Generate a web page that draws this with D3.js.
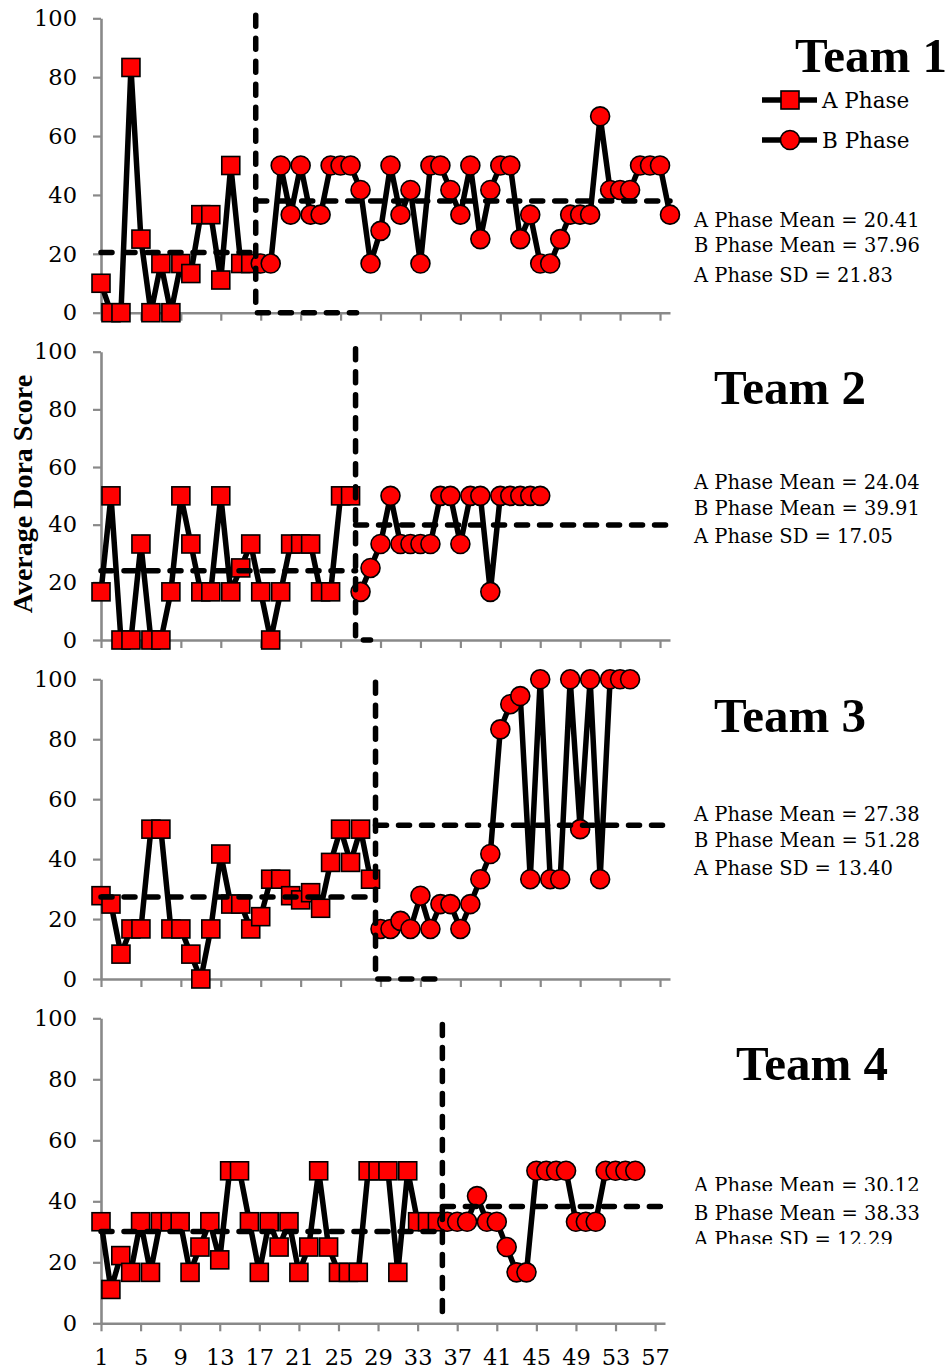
<!DOCTYPE html>
<html>
<head>
<meta charset="utf-8">
<script src="https://cdn.jsdelivr.net/npm/d3@7"></script>
<style>
  body { margin: 0; background: #fff; }
  svg { display: block; }
  .tick text { font-family: "DejaVu Serif", serif; font-size: 22.5px; fill: #000; }
</style>
</head>
<body>
<svg id="chart"></svg>
<script>
var width = 952;
var height = 1370;

// ---- data ----
var teamNames = ["Team 1", "Team 2", "Team 3", "Team 4"];
var xTickLabels = [1, 5, 9, 13, 17, 21, 25, 29, 33, 37, 41, 45, 49, 53, 57];
var yTickLabels = [0, 20, 40, 60, 80, 100];
var seriesNames = ["A Phase", "B Phase"];

var team1A = [10, 0, 0, 83.3, 25, 0, 16.7, 0, 16.7, 13.3, 33.3, 33.3, 11.1, 50, 16.7, 16.7];
var team1B = [16.7, 16.7, 50, 33.3, 50, 33.3, 33.3, 50, 50, 50, 41.7, 16.7, 27.8, 50, 33.3,
  41.7, 16.7, 50, 50, 41.7, 33.3, 50, 25, 41.7, 50, 50, 25, 33.3, 16.7, 16.7, 25, 33.3,
  33.3, 33.3, 66.7, 41.7, 41.7, 41.7, 50, 50, 50, 33.3];

var team2A = [16.7, 50, 0, 0, 33.3, 0, 0, 16.7, 50, 33.3, 16.7, 16.7, 50, 16.7, 25, 33.3,
  16.7, 0, 16.7, 33.3, 33.3, 33.3, 16.7, 16.7, 50, 50];
var team2B = [16.7, 25, 33.3, 50, 33.3, 33.3, 33.3, 33.3, 50, 50, 33.3, 50, 50, 16.7, 50,
  50, 50, 50, 50];

var team3A = [27.8, 25, 8.3, 16.7, 16.7, 50, 50, 16.7, 16.7, 8.3, 0, 16.7, 41.7, 25, 25,
  16.7, 20.8, 33.3, 33.3, 27.8, 26.4, 28.8, 23.6, 38.9, 50, 38.9, 50, 33.3];
var team3B = [16.7, 16.7, 19.4, 16.7, 27.8, 16.7, 25, 25, 16.7, 25, 33.3, 41.7, 83.3, 91.7,
  94.4, 33.3, 100, 33.3, 33.3, 100, 50, 100, 33.3, 100, 100, 100];

var team4A = [33.3, 11.1, 22.2, 16.7, 33.3, 16.7, 33.3, 33.3, 33.3, 16.7, 25, 33.3, 20.8,
  50, 50, 33.3, 16.7, 33.3, 25, 33.3, 16.7, 25, 50, 25, 16.7, 16.7, 16.7, 50, 50, 50,
  16.7, 50, 33.3, 33.3, 33.3];
var team4B = [33.3, 33.3, 33.3, 41.7, 33.3, 33.3, 25, 16.7, 16.7, 50, 50, 50, 50, 33.3,
  33.3, 33.3, 50, 50, 50, 50];

var meanA = [20.41, 24.04, 27.38, 30.12];
var meanB = [37.96, 39.91, 51.28, 38.33];
var sdA = [21.83, 17.05, 13.40, 12.29];

// phase change line: x position, top value, end of the foot along zero
var phaseX = [16.5, 26.5, 28.5, 35.5];
var phaseTop = [101, 101, 99, 98];
var phaseFoot = [26.6, 28, 34.8, 35.5];

var teamA = [team1A, team2A, team3A, team4A];
var teamB = [team1B, team2B, team3B, team4B];

// ---- layout ----
var panels = [
  { top: 18.3, bottom: 312.7, right: 670, titleX: 871, titleY: 72, noteY: [227, 252, 282] },
  { top: 351.7, bottom: 640, right: 670, titleX: 790, titleY: 404, noteY: [489, 515, 543] },
  { top: 679.3, bottom: 979, right: 670, titleX: 790, titleY: 732, noteY: [821, 847, 875] },
  { top: 1018.3, bottom: 1323.3, right: 665, titleX: 812, titleY: 1080, noteY: [1192, 1220, 1246] }
];
var noteClip = [null, null, null, [1191, null, 1244]];
var axisColor = "#898989";
var red = "#ff0000";
var dash = "11,12";

var svg = d3.select("#chart")
  .attr("width", width)
  .attr("height", height);

var defs = svg.append("defs");

function drawMarker(g, kind, cx, cy) {
  if (kind === 0) {
    g.append("rect")
      .attr("x", cx - 9).attr("y", cy - 9)
      .attr("width", 18).attr("height", 18)
      .attr("fill", red).attr("stroke", "#000").attr("stroke-width", 1.6);
  } else {
    g.append("circle")
      .attr("cx", cx).attr("cy", cy).attr("r", 9.5)
      .attr("fill", red).attr("stroke", "#000").attr("stroke-width", 1.6);
  }
}

panels.forEach(function(p, t) {
  var x = d3.scaleLinear().domain([1, 58]).range([101, p.right]);
  var y = d3.scaleLinear().domain([0, 100]).range([p.bottom, p.top]);
  var g = svg.append("g");

  // axes
  g.append("g")
    .attr("transform", "translate(" + x(1) + ",0)")
    .call(d3.axisLeft(y).tickValues(yTickLabels).tickSize(8).tickPadding(16).tickSizeOuter(0));
  var xAxis = g.append("g")
    .attr("transform", "translate(0," + y(0) + ")")
    .call(d3.axisBottom(x).tickValues(xTickLabels).tickSize(8).tickPadding(18).tickSizeOuter(0));
  if (t < 3) xAxis.selectAll(".tick text").remove();
  g.selectAll(".domain").attr("stroke", axisColor).attr("stroke-width", 2.6);
  g.selectAll(".tick line").attr("stroke", axisColor).attr("stroke-width", 2.2);

  var A = teamA[t].map(function(v, i) { return { x: i + 1, y: v }; });
  var B = teamB[t].map(function(v, i) { return { x: A.length + i + 1, y: v }; });

  var line = d3.line().x(function(d) { return x(d.x); }).y(function(d) { return y(d.y); });

  [A, B].forEach(function(s) {
    g.append("path")
      .datum(s)
      .attr("d", line)
      .attr("fill", "none")
      .attr("stroke", "#000")
      .attr("stroke-width", 5.5)
      .attr("stroke-linejoin", "round");
  });
  [A, B].forEach(function(s, k) {
    s.forEach(function(d) { drawMarker(g, k, x(d.x), y(d.y)); });
  });

  // mean lines and phase change line
  var meanLines = [
    [{ x: 1, y: meanA[t] }, { x: phaseX[t], y: meanA[t] }],
    [{ x: phaseX[t], y: meanB[t] }, { x: 58, y: meanB[t] }],
    [{ x: phaseX[t], y: phaseTop[t] }, { x: phaseX[t], y: 0 }, { x: phaseFoot[t], y: 0 }]
  ];
  meanLines.forEach(function(m) {
    g.append("path")
      .datum(m)
      .attr("d", line)
      .attr("fill", "none")
      .attr("stroke", "#000")
      .attr("stroke-width", 5.5)
      .attr("stroke-linecap", "round")
      .attr("stroke-dasharray", dash);
  });

  // title
  g.append("text")
    .attr("x", p.titleX)
    .attr("y", p.titleY)
    .attr("text-anchor", "middle")
    .style("font-family", "'Liberation Serif', serif")
    .style("font-weight", "bold")
    .style("font-size", "49px")
    .text(teamNames[t]);

  // notes
  var notes = [
    "A Phase Mean = " + meanA[t].toFixed(2),
    "B Phase Mean = " + meanB[t].toFixed(2),
    "A Phase SD = " + sdA[t].toFixed(2)
  ];
  notes.forEach(function(s, i) {
    var txt = g.append("text")
      .attr("x", 694)
      .attr("y", p.noteY[i])
      .style("font-family", "'DejaVu Serif', serif")
      .style("font-size", "19.5px")
      .text(s);
    if (noteClip[t] && noteClip[t][i]) {
      var id = "clip" + t + "_" + i;
      defs.append("clipPath").attr("id", id)
        .append("rect")
        .attr("x", 680).attr("y", p.noteY[i] - 30)
        .attr("width", 272).attr("height", noteClip[t][i] - (p.noteY[i] - 30));
      txt.attr("clip-path", "url(#" + id + ")");
    }
  });
});

// legend (first panel only)
var legend = svg.append("g");
seriesNames.forEach(function(name, k) {
  var ly = 100 + k * 40;
  legend.append("line")
    .attr("x1", 762).attr("x2", 817)
    .attr("y1", ly).attr("y2", ly)
    .attr("stroke", "#000").attr("stroke-width", 5.5);
  drawMarker(legend, k, 790, ly);
  legend.append("text")
    .attr("x", 822)
    .attr("y", ly + 7.5)
    .style("font-family", "'DejaVu Serif', serif")
    .style("font-size", "21.5px")
    .text(name);
});

// y axis label
svg.append("text")
  .attr("transform", "translate(32,494) rotate(-90)")
  .attr("text-anchor", "middle")
  .style("font-family", "'Liberation Serif', serif")
  .style("font-weight", "bold")
  .style("font-size", "28px")
  .text("Average Dora Score");
</script>
</body>
</html>
